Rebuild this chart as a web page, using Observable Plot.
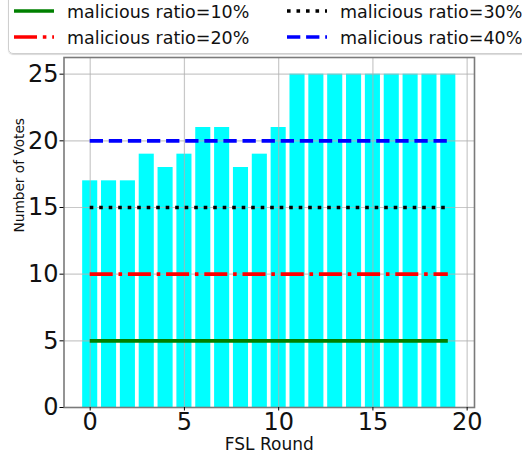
<!DOCTYPE html>
<html><head><meta charset="utf-8">
<script src="https://cdn.jsdelivr.net/npm/d3@7"></script>
<script src="https://cdn.jsdelivr.net/npm/@observablehq/plot@0.6"></script>
<style>
body{margin:0;background:#fff;font-family:"DejaVu Sans",sans-serif;}
#wrap{position:relative;width:522px;height:454px;overflow:hidden;}
#legend{position:absolute;left:8px;top:-6px;width:540px;height:60px;border:1px solid #cfcfcf;border-radius:5px;background:rgba(255,255,255,0.85);box-sizing:border-box;box-shadow:0 1px 1px rgba(0,0,0,0.15);}
</style></head><body><div id="wrap"></div>
<script>
const rounds = [0,1,2,3,4,5,6,7,8,9,10,11,12,13,14,15,16,17,18,19];
const votes = [17,17,17,19,18,19,21,21,18,19,21,25,25,25,25,25,25,25,25,25];
const seriesNames = ["malicious ratio=10%","malicious ratio=20%","malicious ratio=30%","malicious ratio=40%"];
const thresholds = [5,10,15,20];
const seriesColors = ["#008000","#ff0000","#000000","#0000ff"];
const seriesDash = [null,"23 5.8 3.6 5.8","3.6 5.9","13.3 5.8"];
const xTicks = [0,5,10,15,20];
const yTicks = [0,5,10,15,20,25];

const bars = rounds.map((r,i)=>({r, v: votes[i]}));
const lines = thresholds.map((t,i)=>({t, name: seriesNames[i], color: seriesColors[i], dash: seriesDash[i], x1: rounds[0], x2: rounds[rounds.length-1]}));

const marks = [
  Plot.rectY(bars, {x1: d=>d.r-0.4, x2: d=>d.r+0.4, y1: 0, y2: "v", fill: "#00ffff"}),
  Plot.gridX(xTicks, {stroke: "#b0b0b0", strokeOpacity: 0.7, strokeWidth: 1.2}),
  Plot.gridY(yTicks, {stroke: "#b0b0b0", strokeOpacity: 0.7, strokeWidth: 1.2}),
];
lines.forEach(l => {
  marks.push(Plot.ruleY([l], {y: "t", x1: "x1", x2: "x2", stroke: l.color, strokeWidth: 3.6, strokeDasharray: l.dash || undefined, strokeLinecap: "butt"}));
});
marks.push(
  Plot.frame({stroke: "#7a7a7a", strokeWidth: 1.6}),
  Plot.axisX(xTicks, {tickSize: 3.5, tickPadding: 1.5, fontSize: 24, label: null, stroke: "#000"}),
  Plot.axisY(yTicks, {tickSize: 4, tickPadding: 1.5, fontSize: 24, label: null, stroke: "#000"}),
  Plot.text(["FSL Round"], {frameAnchor: "bottom", dy: 37, lineAnchor: "middle", fontSize: 17, fill: "#111"}),
  Plot.text(["Number of Votes"], {frameAnchor: "left", dx: -44, rotate: -90, lineAnchor: "middle", fontSize: 13.7, fill: "#111"})
);

const chart = Plot.plot({
  width: 522, height: 454,
  marginLeft: 63.5, marginRight: 48, marginTop: 57, marginBottom: 47,
  style: {fontFamily: "DejaVu Sans", color: "#111", background: "#fff", overflow: "visible"},
  x: {type: "linear", domain: [-1.39, 20.39]},
  y: {type: "linear", domain: [0, 26.25]},
  marks
});
const wrap = document.getElementById("wrap");
wrap.appendChild(chart);

// legend
const ns = "http://www.w3.org/2000/svg";
const leg = document.createElement("div");
leg.id = "legend";
const lsvg = document.createElementNS(ns, "svg");
lsvg.setAttribute("width", 540); lsvg.setAttribute("height", 60);
leg.appendChild(lsvg);
const colX = [5, 278], rowY = [16, 42];
const order = [[0,0,0],[1,0,1],[2,1,0],[3,1,1]]; // series, col, row
order.forEach(([i,c,r])=>{
  const l = lines[i];
  const x0 = colX[c], y0 = rowY[r];
  const ln = document.createElementNS(ns, "line");
  ln.setAttribute("x1", x0); ln.setAttribute("x2", x0+40);
  ln.setAttribute("y1", y0); ln.setAttribute("y2", y0);
  ln.setAttribute("stroke", l.color); ln.setAttribute("stroke-width", 3.6);
  if (l.dash) ln.setAttribute("stroke-dasharray", l.dash);
  lsvg.appendChild(ln);
  const tx = document.createElementNS(ns, "text");
  tx.setAttribute("x", x0+53); tx.setAttribute("y", y0+1);
  tx.setAttribute("dominant-baseline", "central");
  tx.setAttribute("font-size", 17.5);
  tx.setAttribute("font-family", "DejaVu Sans");
  tx.setAttribute("fill", "#111");
  tx.textContent = l.name;
  lsvg.appendChild(tx);
});
wrap.appendChild(leg);
</script></body></html>
